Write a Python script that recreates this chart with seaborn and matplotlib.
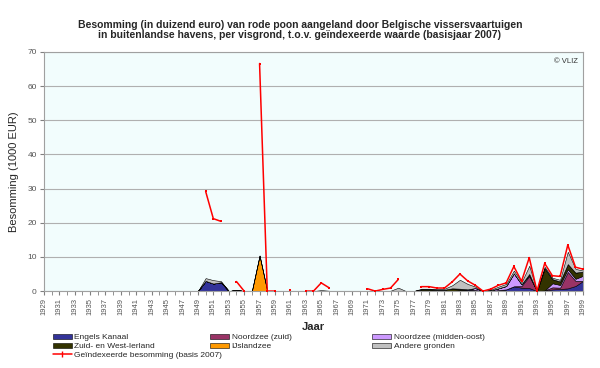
import numpy as np
import pandas as pd
import matplotlib
matplotlib.use("Agg")
import matplotlib.pyplot as plt
import seaborn as sns

nan = np.nan
years = list(range(1929, 2000))

# stacked series (1000 EUR), 1929..1999
engels_kanaal = [0, 0, 0, 0, 0, 0, 0, 0, 0, 0,
                 0, 0, 0, 0, 0, 0, 0, 0, 0, 0,
                 0, 3.0, 2.2, 2.6, 0, 0.3, 0, 0, 0, 0,
                 0, 0, 0, 0, 0, 0, 0, 0, 0, 0,
                 0, 0, 0, 0, 0, 0, 0, 0, 0, 0,
                 0, 0, 0, 0, 0.3, 0.5, 0.3, 0, 0, 0.3,
                 0.5, 1.4, 1.0, 0.9, 0, 0.2, 0.5, 0.6, 0.8, 1.5,
                 3.0]
noordzee_zuid = [0, 0, 0, 0, 0, 0, 0, 0, 0, 0,
                 0, 0, 0, 0, 0, 0, 0, 0, 0, 0,
                 0, 0, 0, 0, 0, 0, 0, 0, 0, 0,
                 0, 0, 0, 0, 0, 0, 0, 0, 0, 0,
                 0, 0, 0, 0, 0, 0, 0, 0, 0, 0,
                 0, 0, 0, 0, 0, 0, 0, 0, 0, 0,
                 0, 0, 0.5, 3.5, 0, 0, 0.6, 0.4, 4.8, 1.5,
                 0]
noordzee_mo = [0, 0, 0, 0, 0, 0, 0, 0, 0, 0,
               0, 0, 0, 0, 0, 0, 0, 0, 0, 0,
               0, 0, 0, 0, 0, 0, 0, 0, 0, 0,
               0, 0, 0, 0, 0, 0, 0, 0, 0, 0,
               0, 0, 0, 0, 0, 0, 0, 0, 0, 0,
               0, 0, 0, 0, 0, 0, 0.6, 0, 0.2, 0.5,
               1.0, 3.8, 0.5, 0.3, 0, 0, 1.2, 0.8, 0.8, 0.6,
               1.5]
zw_ierland = [0, 0, 0, 0, 0, 0, 0, 0, 0, 0,
              0, 0, 0, 0, 0, 0, 0, 0, 0, 0,
              0, 0, 0, 0, 0, 0, 0, 0, 0, 0,
              0, 0, 0, 0, 0, 0, 0, 0, 0, 0,
              0, 0, 0, 0, 0, 0, 0, 0, 0, 0.5,
              0.5, 0.4, 0.4, 0.8, 0.4, 0, 0, 0, 0, 0,
              0, 0, 0, 0.3, 0, 6.5, 1.2, 1.0, 1.5, 1.8,
              1.2]
ijslandzee = [0, 0, 0, 0, 0, 0, 0, 0, 0, 0,
              0, 0, 0, 0, 0, 0, 0, 0, 0, 0,
              0, 0, 0, 0, 0, 0, 0, 0, 10.4, 0,
              0, 0, 0, 0, 0, 0, 0, 0, 0, 0,
              0, 0, 0, 0, 0, 0, 0, 0, 0, 0,
              0, 0, 0, 0, 0, 0, 0, 0, 0, 0,
              0, 0, 0, 0, 0, 0, 0, 0, 0, 0,
              0]
andere = [0, 0, 0, 0, 0, 0, 0, 0, 0, 0,
          0, 0, 0, 0, 0, 0, 0, 0, 0, 0,
          0, 0.8, 1.0, 0.3, 0, 0, 0, 0, 0, 0,
          0, 0, 0.1, 0, 0, 0, 0.3, 0.1, 0, 0,
          0, 0, 0, 0, 0, 0.1, 1.0, 0, 0, 0.2,
          0.2, 0.2, 0.3, 0.9, 2.6, 1.6, 0.4, 0, 0.2, 0.5,
          0.6, 0.8, 0.6, 2.4, 0, 0.4, 0.4, 0.5, 3.6, 1.1,
          0.3]

# indexed value (basis 2007)
geindexeerd = [nan, nan, nan, nan, nan, nan, nan, nan, nan, nan,
               nan, nan, nan, nan, nan, nan, nan, nan, nan, nan,
               nan, 29.2, 21.2, 20.4, nan, 2.8, 0, nan, 66.6, 0,
               0, nan, 0.3, nan, 0, 0, 2.4, 1.0, nan, nan,
               nan, nan, 0.7, 0, 0.5, 0.9, 3.4, nan, nan, 1.3,
               1.3, 0.9, 0.9, 2.7, 5.0, 3.0, 1.7, 0, 0.6, 1.7,
               2.4, 7.2, 2.9, 9.8, 0, 8.1, 4.5, 4.3, 13.5, 7.0,
               6.4]

labels = ["Engels Kanaal", "Noordzee (zuid)", "Noordzee (midden-oost)",
          "Zuid- en West-Ierland", "IJslandzee", "Andere gronden"]
colors = ["#333399", "#993366", "#cc99ff", "#333300", "#ff9900", "#c0c0c0"]

sns.set_style("white")
plt.rcParams["font.family"] = ["Liberation Sans", "DejaVu Sans"]

fig = plt.figure(figsize=(6, 3.68), dpi=100)
ax = fig.add_axes([0.073, 0.209, 0.899, 0.650])
ax.set_facecolor("#f2fdfd")

polys = ax.stackplot(years, engels_kanaal, noordzee_zuid, noordzee_mo,
                     zw_ierland, ijslandzee, andere,
                     colors=colors, labels=labels,
                     edgecolor="black", linewidth=0.4, zorder=2)

# red line, broken where there is no value
df = pd.DataFrame({"jaar": years, "waarde": geindexeerd})
df["segment"] = df["waarde"].isna().cumsum()
df = df.dropna()
sns.lineplot(data=df, x="jaar", y="waarde", units="segment", estimator=None,
             color="red", linewidth=1.1, marker="s", markersize=2,
             markeredgewidth=0, ax=ax, zorder=3, legend=False)
line_handle = plt.Line2D([], [], color="red", linewidth=1.1, marker="|",
                         markersize=4)

ax.set_xlim(1929, 1999)
ax.set_ylim(0, 70)
ax.set_yticks(range(0, 71, 10))
ax.set_xticks(range(1929, 2000, 2))
ax.set_xticks(range(1929, 2000), minor=True)
ax.tick_params(axis="x", which="both", direction="out", length=3,
               color="#808080", bottom=True, labelsize=5.5,
               labelcolor="#555555", labelrotation=90, pad=2)
ax.tick_params(axis="y", direction="out", length=3, color="#808080",
               left=True, labelsize=6, labelcolor="#555555", pad=2)
ax.grid(axis="y", color="#b0b0b0", linewidth=0.8, zorder=0)
ax.set_axisbelow(True)
for s in ax.spines.values():
    s.set_color("#a0a0a0")
    s.set_linewidth(0.8)

ax.set_xlabel("Jaar", fontsize=8, fontweight="bold", labelpad=5)
ax.set_ylabel("Besomming (1000 EUR)", fontsize=8, labelpad=6)

ax.text(0.99, 0.975, "\u00a9 VLIZ", transform=ax.transAxes, ha="right",
        va="top", fontsize=5.5, color="#333333")

fig.suptitle("Besomming (in duizend euro) van rode poon aangeland door Belgische vissersvaartuigen\n"
             "in buitenlandse havens, per visgrond, t.o.v. ge\u00efndexeerde waarde (basisjaar 2007)",
             x=0.5, y=0.947, fontsize=7.5, fontweight="bold", linespacing=1.12)

# legend: three columns placed separately
columns = [
    ([polys[0], polys[3], line_handle],
     [labels[0], labels[3], "Ge\u00efndexeerde besomming (basis 2007)"], 0.088),
    ([polys[1], polys[4]], [labels[1], labels[4]], 0.35),
    ([polys[2], polys[5]], [labels[2], labels[5]], 0.62),
]
for hs, ns, xpos in columns:
    fig.legend(hs, ns, loc="upper left", bbox_to_anchor=(xpos, 0.093),
               frameon=False, fontsize=6, handlelength=2.3, handleheight=0.6,
               handletextpad=0.3, labelspacing=0.15, borderpad=0,
               borderaxespad=0)

fig.savefig("out.png", dpi=100)
